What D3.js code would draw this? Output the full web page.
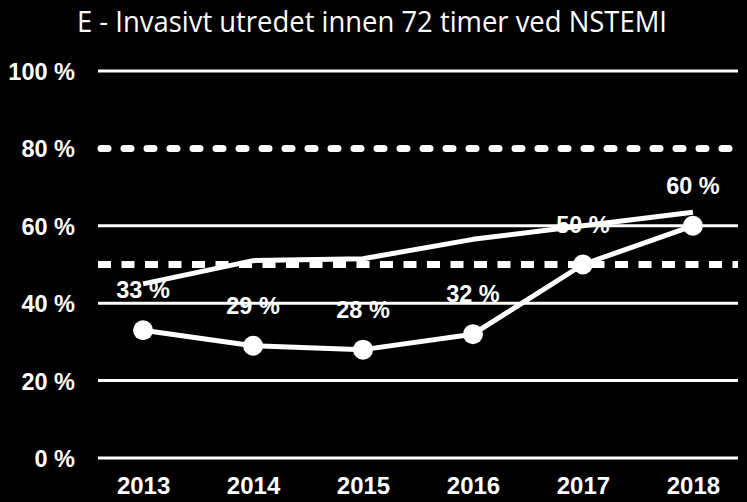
<!DOCTYPE html>
<html>
<head>
<meta charset="utf-8">
<script src="https://cdn.jsdelivr.net/npm/d3@7"></script>
<style>
  html, body { margin: 0; padding: 0; background: #000; }
  svg { display: block; }
</style>
</head>
<body>
<svg id="chart" width="747" height="502"></svg>
<script>
const title = "E - Invasivt utredet innen 72 timer ved NSTEMI";
const years = ["2013", "2014", "2015", "2016", "2017", "2018"];
const hospitalValues = [33, 29, 28, 32, 50, 60];
const nationalValues = [45, 51, 51.5, 56.5, 60, 63.5];
const yTicks = [0, 20, 40, 60, 80, 100];
const targetHigh = 80;
const targetLow = 50;

const svg = d3.select("#chart");
const W = 747, H = 502;
svg.append("rect").attr("width", W).attr("height", H).attr("fill", "#000");

const x = d3.scalePoint().domain(years).range([98, 738]).padding(0.41);
const y = d3.scaleLinear().domain([0, 100]).range([458, 71]);

const font = "'Liberation Sans', Arial, sans-serif";

// title
svg.append("text")
  .attr("x", 372).attr("y", 32)
  .attr("text-anchor", "middle")
  .attr("fill", "#fff")
  .attr("font-family", "'Open Sans', sans-serif")
  .attr("font-size", 30)
  .attr("textLength", 590)
  .attr("lengthAdjust", "spacingAndGlyphs")
  .text(title);

// grid lines
svg.append("g").selectAll("line")
  .data(yTicks.filter(t => t !== targetHigh))
  .join("line")
  .attr("x1", 98).attr("x2", 738)
  .attr("y1", d => y(d)).attr("y2", d => y(d))
  .attr("stroke", "#fff").attr("stroke-width", 3);

// y axis labels
const yAxis = d3.axisLeft(y).tickValues(yTicks).tickSize(0).tickPadding(0).tickFormat(d => d + " %");
const gy = svg.append("g").attr("transform", "translate(75,0)").call(yAxis);
gy.select(".domain").remove();
gy.selectAll("text")
  .attr("fill", "#fff")
  .attr("font-family", font)
  .attr("font-weight", "bold")
  .attr("font-size", 23.5)
  .attr("dy", "0.36em");

// x axis labels
const xAxis = d3.axisBottom(x).tickSize(0).tickPadding(0);
const gx = svg.append("g").attr("transform", "translate(0,494)").call(xAxis);
gx.select(".domain").remove();
gx.selectAll("text")
  .attr("fill", "#fff")
  .attr("font-family", font)
  .attr("font-weight", "bold")
  .attr("font-size", 24)
  .attr("y", 0)
  .attr("dy", 0);

// target lines
svg.append("line")
  .attr("x1", 101).attr("x2", 738)
  .attr("y1", y(targetHigh)).attr("y2", y(targetHigh))
  .attr("stroke", "#fff").attr("stroke-width", 7)
  .attr("stroke-linecap", "round")
  .attr("stroke-dasharray", "7 16");
svg.append("line")
  .attr("x1", 98).attr("x2", 738)
  .attr("y1", y(targetLow)).attr("y2", y(targetLow))
  .attr("stroke", "#fff").attr("stroke-width", 7)
  .attr("stroke-dasharray", "13 10.5");

const line = d3.line().x((d, i) => x(years[i])).y(d => y(d));

// national line (no markers)
svg.append("path")
  .datum(nationalValues)
  .attr("d", line)
  .attr("fill", "none")
  .attr("stroke", "#fff").attr("stroke-width", 5)
  .attr("stroke-linejoin", "round");

// hospital line with markers
svg.append("path")
  .datum(hospitalValues)
  .attr("d", line)
  .attr("fill", "none")
  .attr("stroke", "#fff").attr("stroke-width", 5)
  .attr("stroke-linejoin", "round");

svg.append("g").selectAll("circle")
  .data(hospitalValues)
  .join("circle")
  .attr("cx", (d, i) => x(years[i]))
  .attr("cy", d => y(d))
  .attr("r", 10)
  .attr("fill", "#fff");

// data labels
svg.append("g").selectAll("text")
  .data(hospitalValues)
  .join("text")
  .attr("x", (d, i) => x(years[i]))
  .attr("y", d => y(d) - 32)
  .attr("text-anchor", "middle")
  .attr("fill", "#fff")
  .attr("font-family", font)
  .attr("font-weight", "bold")
  .attr("font-size", 23.5)
  .text(d => d + " %");
</script>
</body>
</html>
